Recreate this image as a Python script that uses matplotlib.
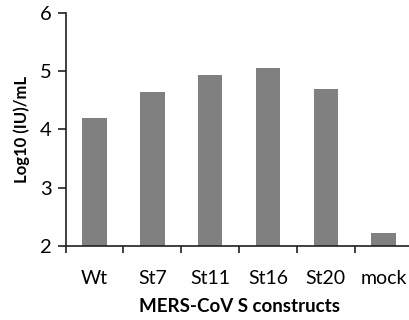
import matplotlib
matplotlib.use("Agg")
import matplotlib.pyplot as plt
import numpy as np

categories = ["Wt", "St7", "St11", "St16", "St20", "mock"]
values = [4.20, 4.64, 4.93, 5.06, 4.69, 2.22]
y_ticks = [2, 3, 4, 5, 6]

plt.rcParams["font.family"] = ["Lato", "DejaVu Sans"]

fig = plt.figure(figsize=(4.09, 3.20), dpi=100)
ax = fig.add_axes([0.1606, 0.231, 0.848, 0.729])

x = np.arange(len(categories))
ax.bar(x, values, width=0.42, color="#808080", bottom=0)

ax.set_ylim(2, 6)
ax.set_xlim(-0.5, len(categories) - 0.5)
ax.set_yticks(y_ticks)
ax.set_yticklabels([str(t) for t in y_ticks], fontsize=14.5)

# category labels in the middle, ticks on the boundaries
ax.set_xticks(x)
ax.set_xticklabels(categories, fontsize=14)
ax.tick_params(axis="x", which="major", length=0, pad=17)
ax.set_xticks(np.arange(-0.5, len(categories), 1), minor=True)
ax.tick_params(axis="x", which="minor", length=5, width=1.2, color="#202020")
ax.tick_params(axis="y", length=6, width=1.2, color="#202020", pad=4)

for side in ["top", "right"]:
    ax.spines[side].set_visible(False)
for side in ["left", "bottom"]:
    ax.spines[side].set_linewidth(1.2)
    ax.spines[side].set_color("#202020")

ax.set_ylabel("Log10 (IU)/mL", fontsize=12, fontweight="bold", labelpad=7)
ax.set_xlabel("MERS-CoV S constructs", fontsize=13.5, fontweight="bold", labelpad=8)

fig.savefig("out.png", dpi=100)
